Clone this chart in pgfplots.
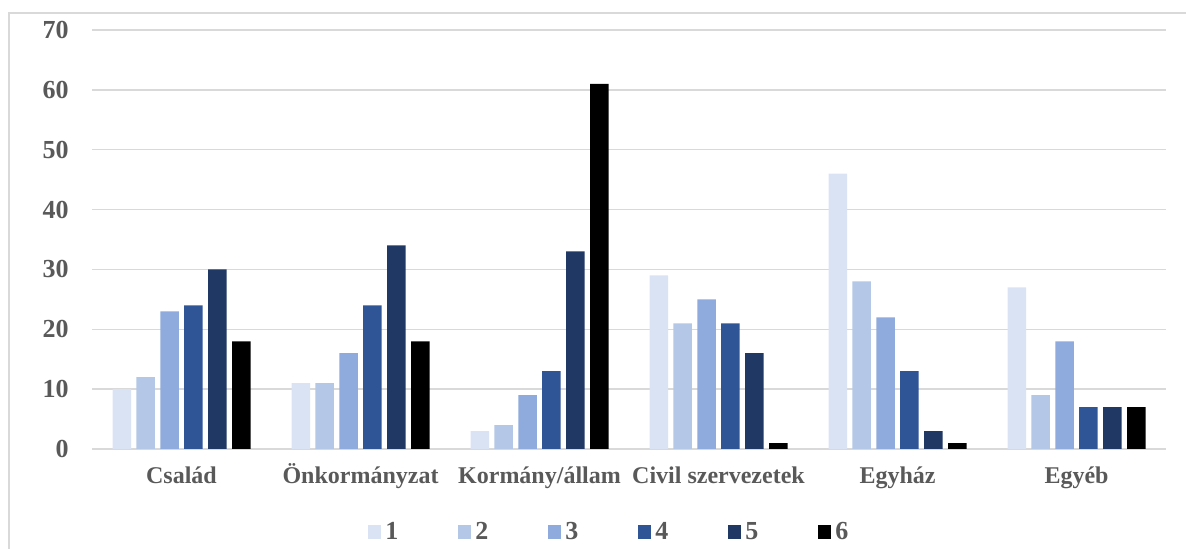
\documentclass[border=0pt]{standalone}
\usepackage{fontspec}
\setmainfont{Liberation Serif}
\usepackage{pgfplots}
\pgfplotsset{compat=1.18}

\definecolor{c1}{HTML}{DAE3F3}
\definecolor{c2}{HTML}{B4C7E7}
\definecolor{c3}{HTML}{8FAADC}
\definecolor{c4}{HTML}{2F5597}
\definecolor{c5}{HTML}{203864}
\definecolor{c6}{HTML}{000000}
\definecolor{txt}{HTML}{595959}
\definecolor{gridc}{HTML}{D9D9D9}

% 1 px of the reference = 0.5pt
\begin{document}
\begin{tikzpicture}
\useasboundingbox (0,0) rectangle (593pt,274.5pt);
\draw[gridc, line width=0.75pt] (4.5pt,0) -- (4.5pt,268pt) -- (593pt,268pt);
\begin{axis}[
    at={(46pt,50pt)}, anchor=south west,
    scale only axis,
    width=537pt, height=209.5pt,
    ybar=2.7pt, bar width=9.25pt,
    xmin=-0.5, xmax=5.5,
    ymin=0, ymax=70,
    ytick={0,10,...,70},
    xtick={0,...,5},
    xticklabels={Család, Önkormányzat, Kormány/állam, Civil szervezetek, Egyház, Egyéb},
    axis line style={draw=none},
    major tick length=0pt,
    ymajorgrids, grid style={gridc, line width=0.75pt},
    /pgf/number format/assume math mode=true,
    yticklabel style={font=\bfseries\fontsize{13}{13}\selectfont, text=txt, anchor=east, inner sep=0pt, xshift=-11.5pt},
    xticklabel style={font=\bfseries\fontsize{12}{12}\selectfont, text=txt, anchor=north, inner sep=0pt,
        text height=9pt, text depth=3pt, yshift=-8pt},
    legend columns=6,
    legend style={at={(271.75pt,-41.5pt)}, anchor=center, draw=none, fill=none,
        font=\bfseries\fontsize{13}{13}\selectfont, text=txt,
        /tikz/every even column/.append style={column sep=2.5pt}},
    legend image code/.code={\fill[#1] (0pt,-3.35pt) rectangle (6.7pt,3.35pt);},
    every axis plot/.append style={draw=none},
]
\addplot[fill=c1] coordinates {(0,10)(1,11)(2,3)(3,29)(4,46)(5,27)};
\addplot[fill=c2] coordinates {(0,12)(1,11)(2,4)(3,21)(4,28)(5,9)};
\addplot[fill=c3] coordinates {(0,23)(1,16)(2,9)(3,25)(4,22)(5,18)};
\addplot[fill=c4] coordinates {(0,24)(1,24)(2,13)(3,21)(4,13)(5,7)};
\addplot[fill=c5] coordinates {(0,30)(1,34)(2,33)(3,16)(4,3)(5,7)};
\addplot[fill=c6] coordinates {(0,18)(1,18)(2,61)(3,1)(4,1)(5,7)};
\legend{\makebox[31.8pt][l]{1},\makebox[31.8pt][l]{2},\makebox[31.8pt][l]{3},\makebox[31.8pt][l]{4},\makebox[31.8pt][l]{5},\makebox[31.8pt][l]{6}}
\end{axis}
\end{tikzpicture}
\end{document}
